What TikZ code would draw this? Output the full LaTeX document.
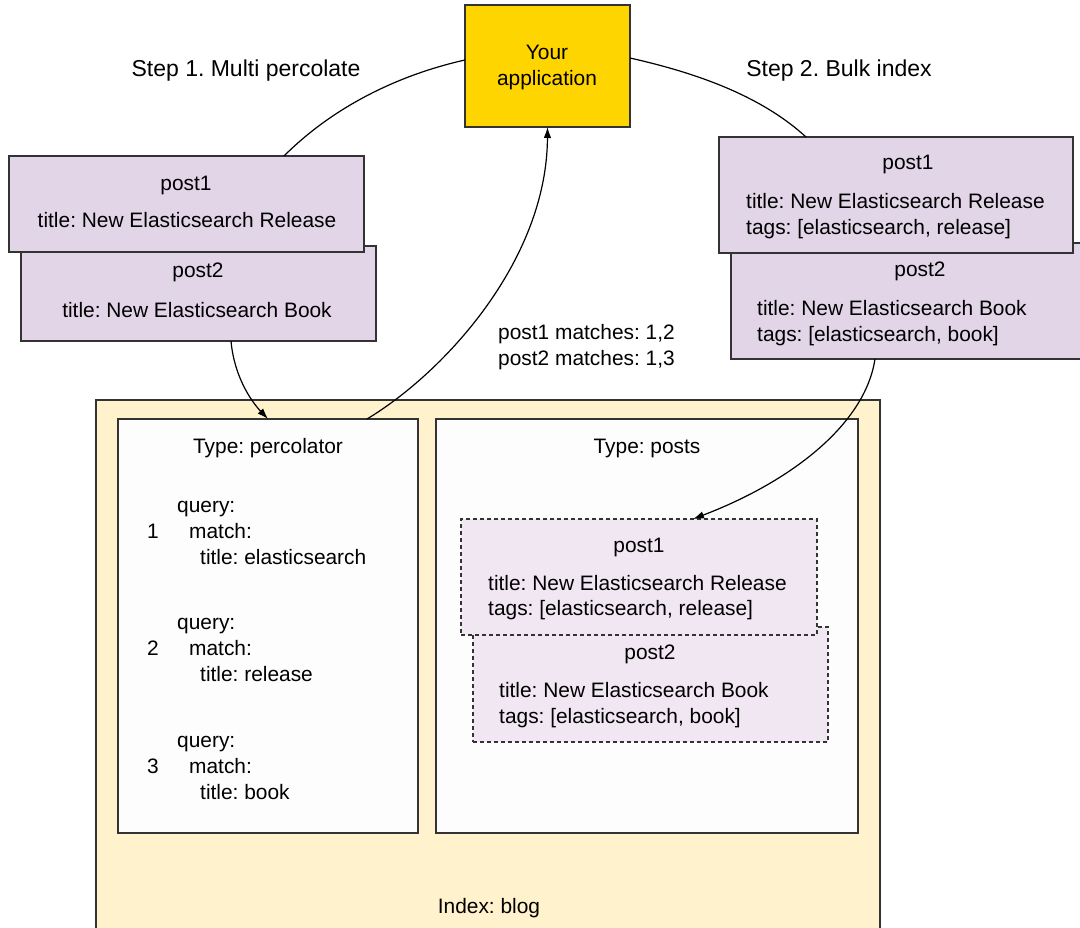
\documentclass[tikz,border=0pt]{standalone}
\usepackage{fontspec}
\setmainfont{Liberation Sans}
\usetikzlibrary{arrows.meta,calc}
\definecolor{appfill}{HTML}{FFD500}
\definecolor{postfill}{HTML}{E1D5E7}
\definecolor{postlight}{HTML}{F1E7F3}
\definecolor{idxfill}{HTML}{FFF2CC}
\definecolor{typefill}{HTML}{FDFDFD}
\definecolor{edge}{HTML}{333333}
\frenchspacing
\begin{document}
\begin{tikzpicture}[x=1pt,y=-1pt,
  box/.style={draw=edge,line width=1.3pt,anchor=north west,inner sep=0pt,outer sep=0pt},
  dbox/.style={box,dash pattern=on 4pt off 3pt,fill=postlight},
  txt/.style={inner sep=0pt,text height=15pt,text depth=0pt,font=\fontsize{20.9}{26}\selectfont},
  ltxt/.style={txt,anchor=west},
  steptxt/.style={inner sep=0pt,text height=16.5pt,text depth=0pt,font=\fontsize{23}{28}\selectfont},
  conn/.style={draw=black,line width=1.2pt},
  arr/.style={conn,-{Latex[length=11pt,width=7.5pt]}}]
\useasboundingbox (0,0) rectangle (1080,928);
\fill[white] (0,0) rectangle (1080,928);

% Index box
\node[box,fill=idxfill,minimum width=784,minimum height=560] (idx) at (96,400) {};
\node[txt] (idxlabel) at (489,906) {Index: blog};

% Type boxes
\node[box,fill=typefill,minimum width=300,minimum height=414] (perc) at (118,419) {};
\node[box,fill=typefill,minimum width=422,minimum height=414] (posts) at (436,419) {};
\node[txt] (perclabel) at (268,446) {Type: percolator};
\node[txt] (postslabel) at (647,446) {Type: posts};

% queries
\node[ltxt] (q1a) at (177,505) {query:};
\node[txt] (q1n) at (153,531) {1};
\node[ltxt] (q1b) at (189,531) {match:};
\node[ltxt] (q1c) at (200,557) {title: elasticsearch};
\node[ltxt] (q2a) at (177,622) {query:};
\node[txt] (q2n) at (153,648) {2};
\node[ltxt] (q2b) at (189,648) {match:};
\node[ltxt] (q2c) at (200,674) {title: release};
\node[ltxt] (q3a) at (177,740) {query:};
\node[txt] (q3n) at (153,766) {3};
\node[ltxt] (q3b) at (189,766) {match:};
\node[ltxt] (q3c) at (200,792) {title: book};

% dashed posts
\node[dbox,minimum width=355,minimum height=115] (dp2) at (473,627) {};
\node[dbox,minimum width=356,minimum height=116] (dp1) at (461,519) {};
\node[txt] (dp1t) at (639,545) {post1};
\node[ltxt] (dp1a) at (488,583) {title: New Elasticsearch Release};
\node[ltxt] (dp1b) at (488,608) {tags: [elasticsearch, release]};
\node[txt] (dp2t) at (650,652) {post2};
\node[ltxt] (dp2a) at (499,690) {title: New Elasticsearch Book};
\node[ltxt] (dp2b) at (499,716) {tags: [elasticsearch, book]};

% application
\node[box,fill=appfill,minimum width=165,minimum height=122] (app) at (465,5) {};
\node[txt] (applabel) at (547,52) {Your};
\node[txt] (applabel2) at (547,78) {application};

% step labels
\node[steptxt] (step1) at (246,68) {Step 1. Multi percolate};
\node[steptxt] (step2) at (839,68) {Step 2. Bulk index};

% left posts
\node[box,fill=postfill,minimum width=355,minimum height=95] (lp2) at (21,246) {};
\node[box,fill=postfill,minimum width=355,minimum height=96] (lp1) at (9,156) {};
\node[txt] (lp1t) at (186,183) {post1};
\node[txt] (lp1a) at (187,220) {title: New Elasticsearch Release};
\node[txt] (lp2t) at (198,270) {post2};
\node[txt] (lp2a) at (197,310) {title: New Elasticsearch Book};

% right posts
\node[box,fill=postfill,minimum width=360,minimum height=116] (rp2) at (731,243) {};
\node[box,fill=postfill,minimum width=354,minimum height=116] (rp1) at (719,137) {};
\node[txt] (rp1t) at (908,162) {post1};
\node[ltxt] (rp1a) at (746,201) {title: New Elasticsearch Release};
\node[ltxt] (rp1b) at (746,227) {tags: [elasticsearch, release]};
\node[txt] (rp2t) at (920,269) {post2};
\node[ltxt] (rp2a) at (757,308) {title: New Elasticsearch Book};
\node[ltxt] (rp2b) at (757,334) {tags: [elasticsearch, book]};

% matches
\node[ltxt] (m1) at (498,332) {post1 matches: 1,2};
\node[ltxt] (m2) at (498,358) {post2 matches: 1,3};

% connectors
\draw[conn] ($(lp1.north west)+(275,0)$) .. controls (333,107) and (398,75) .. ($(app.north west)+(0,55)$);
\draw[conn] ($(app.north east)+(0,53)$) .. controls (692,72) and (759,94) .. ($(rp1.north west)+(87,0)$);
\draw[arr] ($(lp2.south west)+(210,0)$) .. controls (234,375) and (250,400) .. ($(perc.north west)+(150,0)$);
\draw[arr] ($(perc.north west)+(249,0)$) .. controls (445,372) and (547,260) .. (app.south);
\draw[arr] ($(rp2.south west)+(144,0)$) .. controls (865,425) and (790,482) .. ($(dp1.north west)+(232,0)$);
\end{tikzpicture}
\end{document}
